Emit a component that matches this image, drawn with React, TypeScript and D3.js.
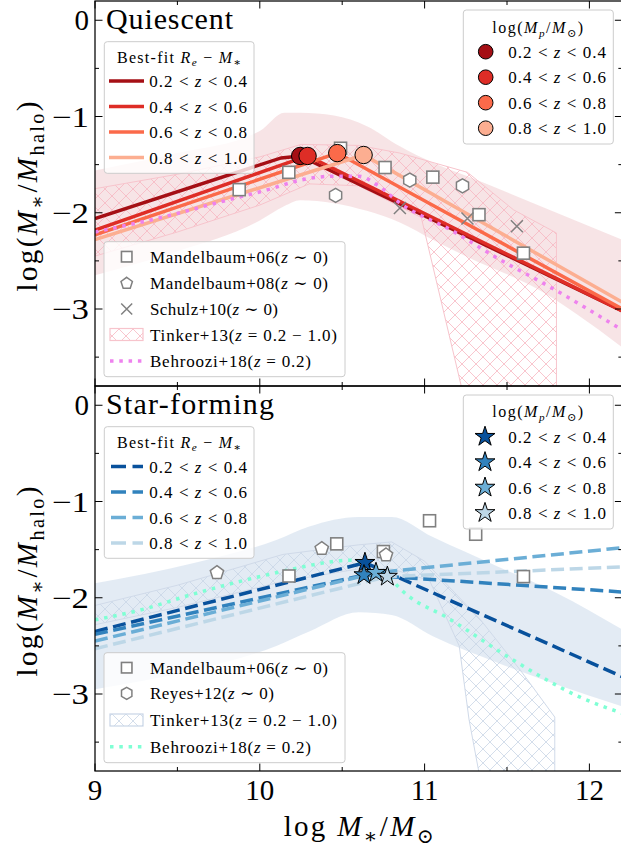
import React from "react";
import * as d3 from "d3";

// ---------- axes ----------
const X_DOMAIN: [number, number] = [9, 12.2];
const Y_DOMAIN: [number, number] = [-3.8, 0.2];
const X_MAJOR = [9, 10, 11, 12];
const X_MINOR = [9.5, 10.5, 11.5];
const Y_MAJOR = [0, -1, -2, -3];
const Y_MINOR = [-0.5, -1.5, -2.5, -3.5];
const Y_TICK_TEXT = ["0", "\u22121", "\u22122", "\u22123"];
const X_TICK_TEXT = ["9", "10", "11", "12"];

// ---------- redshift bins ----------
const Z_LO = ["0.2", "0.4", "0.6", "0.8"];
const Z_HI = ["0.4", "0.6", "0.8", "1.0"];

// ---------- quiescent: best-fit relations (knots) and pivot masses ----------
const Q_FIT_X = [
  [9.0, 10.13, 10.245, 12.2],
  [9.0, 10.29, 12.2],
  [9.0, 10.47, 12.2],
  [9.0, 10.63, 12.2],
];
const Q_FIT_Y = [
  [-2.06, -1.43, -1.41, -3.02],
  [-2.18, -1.41, -3.02],
  [-2.23, -1.38, -3.0],
  [-2.28, -1.4, -2.93],
];
const Q_PIVOT_X = [10.245, 10.29, 10.47, 10.63];
const Q_PIVOT_Y = [-1.41, -1.41, -1.38, -1.4];

// quiescent comparison data
const Q_M06_X = [9.875, 10.176, 10.49, 10.76, 11.05, 11.33, 11.6];
const Q_M06_Y = [-1.76, -1.58, -1.33, -1.53, -1.63, -2.02, -2.42];
const Q_M08_X = [10.46, 10.91, 11.23];
const Q_M08_Y = [-1.82, -1.66, -1.72];
const Q_S10_X = [10.85, 11.26, 11.56];
const Q_S10_Y = [-1.95, -2.06, -2.14];

const Q_BEH_X = [9.0, 9.4, 9.8, 10.05, 10.25, 10.45, 10.6, 10.72, 10.85, 11.16, 11.46, 11.76, 12.2];
const Q_BEH_Y = [-2.2, -2.05, -1.87, -1.76, -1.66, -1.62, -1.62, -1.72, -1.9, -2.18, -2.49, -2.77, -3.22];

const Q_BAND_X = [9.0, 9.5, 10.0, 10.15, 10.245, 10.45, 10.65, 10.85, 11.05, 11.26, 11.66, 12.2];
const Q_BAND_HI = [-1.56, -1.38, -1.15, -0.96, -0.96, -0.99, -1.1, -1.31, -1.48, -1.62, -1.9, -2.28];
const Q_BAND_LO = [-2.65, -2.4, -2.08, -1.93, -1.87, -1.9, -1.98, -2.1, -2.28, -2.46, -2.77, -3.4];

const Q_TINK_UX = [9.0, 9.5, 10.0, 10.25, 10.6, 10.85, 11.26, 11.54, 11.8];
const Q_TINK_UY = [-1.75, -1.6, -1.42, -1.29, -1.3, -1.38, -1.58, -1.97, -2.21];
const Q_TINK_LX = [9.0, 9.5, 10.0, 10.3, 10.6, 10.98, 11.25];
const Q_TINK_LY = [-2.45, -2.2, -1.92, -1.7, -1.72, -2.05, -4.0];

// ---------- star-forming: best-fit relations and pivot masses ----------
const S_FIT_X = [
  [9.0, 10.638, 12.2],
  [9.0, 10.632, 12.2],
  [9.0, 10.705, 12.2],
  [9.0, 10.774, 12.2],
];
const S_FIT_Y = [
  [-2.35, -1.636, -2.82],
  [-2.38, -1.764, -1.94],
  [-2.45, -1.74, -1.48],
  [-2.53, -1.78, -1.68],
];
const S_PIVOT_X = [10.638, 10.632, 10.705, 10.774];
const S_PIVOT_Y = [-1.636, -1.764, -1.74, -1.78];

const S_M06_X = [10.177, 10.467, 10.75, 11.03, 11.31, 11.6];
const S_M06_Y = [-1.774, -1.44, -1.52, -1.2, -1.34, -1.78];
const S_R12_X = [9.74, 10.376, 10.766];
const S_R12_Y = [-1.74, -1.49, -1.556];

const S_BEH_X = [9.0, 9.27, 9.58, 9.88, 10.18, 10.38, 10.54, 10.65, 10.75, 10.9, 11.13, 11.54, 11.94, 12.2];
const S_BEH_Y = [-2.23, -2.13, -1.97, -1.83, -1.71, -1.64, -1.61, -1.63, -1.74, -1.98, -2.2, -2.65, -3.03, -3.2];

const S_BAND_X = [9.0, 9.6, 10.1, 10.3, 10.6, 10.8, 11.05, 11.45, 11.8, 12.2];
const S_BAND_HI = [-1.85, -1.64, -1.4, -1.26, -1.16, -1.16, -1.37, -1.68, -1.95, -2.33];
const S_BAND_LO = [-2.95, -2.75, -2.5, -2.35, -2.15, -2.18, -2.4, -2.68, -2.9, -3.13];

const S_TINK_UX = [9.0, 9.5, 10.14, 10.6, 10.8, 11.0, 11.34, 11.58, 11.79];
const S_TINK_UY = [-2.08, -1.87, -1.55, -1.45, -1.42, -1.62, -2.23, -2.75, -3.24];
const S_TINK_LX = [9.0, 9.5, 10.14, 10.6, 10.8, 11.03, 11.21, 11.27, 11.35];
const S_TINK_LY = [-2.28, -2.1, -1.83, -1.7, -1.7, -1.82, -2.5, -3.27, -4.0];

// ---------- styling ----------
const REDS = ["#a50f15", "#de2d26", "#fb6a4a", "#fcae91"];
const BLUES = ["#08519c", "#3182bd", "#6baed6", "#bdd7e7"];
const GREY = "#808080";
const FONT = "'Liberation Serif', 'DejaVu Serif', serif";

const W = 621;
const H = 849;
const PLOT_L = 95;
const PLOT_R = 95 + 3.2 * 164.8;
const PANEL_H = 385;
const TOP_Q = 1;
const TOP_S = 386;

type Part = { t: string; it?: boolean; sub?: boolean };

function Tex({ parts, fs }: { parts: Part[]; fs: number }) {
  let shift = 0;
  return (
    <>
      {parts.map((p, i) => {
        const target = p.sub ? fs * 0.24 : 0;
        const dy = target - shift;
        shift = target;
        return (
          <tspan
            key={i}
            dy={dy !== 0 ? dy : undefined}
            fontStyle={p.it ? "italic" : undefined}
            fontSize={p.sub ? fs * 0.7 : undefined}
          >
            {p.t}
          </tspan>
        );
      })}
    </>
  );
}

const zParts = (i: number): Part[] => [
  { t: Z_LO[i] + " < " },
  { t: "z", it: true },
  { t: " < " + Z_HI[i] },
];

function polygonPath(n: number, r: number, rot: number) {
  const pts = d3.range(n).map((k) => {
    const a = rot + (2 * Math.PI * k) / n;
    return [r * Math.sin(a), -r * Math.cos(a)];
  });
  return "M" + pts.map((p) => p.join(",")).join("L") + "Z";
}

const hexPath = (r: number) => polygonPath(6, r, 0);
const pentPath = (r: number) => polygonPath(5, r, 0);
const starPath = (R: number) =>
  d3.symbol().type(d3.symbolStar).size((R * R) / 0.8908130915292852)()!;

function Square({ cx, cy, s }: { cx: number; cy: number; s: number }) {
  return (
    <rect x={cx - s / 2} y={cy - s / 2} width={s} height={s} fill="#fff" stroke={GREY} strokeWidth={1.6} />
  );
}
function Cross({ cx, cy, a }: { cx: number; cy: number; a: number }) {
  return (
    <path
      d={`M${cx - a},${cy - a}L${cx + a},${cy + a}M${cx - a},${cy + a}L${cx + a},${cy - a}`}
      stroke={GREY}
      strokeWidth={1.5}
      fill="none"
    />
  );
}
function Poly({ cx, cy, d }: { cx: number; cy: number; d: string }) {
  return <path transform={`translate(${cx},${cy})`} d={d} fill="#fff" stroke={GREY} strokeWidth={1.5} />;
}

function Frame({ x, y, top, xLabels }: { x: d3.ScaleLinear<number, number>; y: d3.ScaleLinear<number, number>; top: number; xLabels: boolean }) {
  const bottom = top + PANEL_H;
  const maj = 7.5;
  const min = 4;
  return (
    <g stroke="#000" strokeWidth={1}>
      {X_MAJOR.map((v) => (
        <g key={"xm" + v}>
          <line x1={x(v)} x2={x(v)} y1={bottom} y2={bottom - maj} />
          <line x1={x(v)} x2={x(v)} y1={top} y2={top + maj} />
        </g>
      ))}
      {X_MINOR.map((v) => (
        <g key={"xn" + v}>
          <line x1={x(v)} x2={x(v)} y1={bottom} y2={bottom - min} />
          <line x1={x(v)} x2={x(v)} y1={top} y2={top + min} />
        </g>
      ))}
      {Y_MAJOR.map((v) => (
        <g key={"ym" + v}>
          <line x1={PLOT_L} x2={PLOT_L + maj} y1={y(v)} y2={y(v)} />
          <line x1={PLOT_R} x2={PLOT_R - maj} y1={y(v)} y2={y(v)} />
        </g>
      ))}
      {Y_MINOR.map((v) => (
        <g key={"yn" + v}>
          <line x1={PLOT_L} x2={PLOT_L + min} y1={y(v)} y2={y(v)} />
          <line x1={PLOT_R} x2={PLOT_R - min} y1={y(v)} y2={y(v)} />
        </g>
      ))}
      <rect x={PLOT_L} y={top} width={PLOT_R - PLOT_L} height={PANEL_H} fill="none" strokeWidth={1.25} />
      <g stroke="none" fill="#000" fontFamily={FONT} fontSize={29}>
        {Y_MAJOR.map((v, i) => (
          <text
            key={"yl" + v}
            x={89}
            y={y(v) + 10}
            textAnchor="end"
            textLength={v === 0 ? undefined : 37}
            lengthAdjust="spacingAndGlyphs"
          >
            {Y_TICK_TEXT[i]}
          </text>
        ))}
        {xLabels &&
          X_MAJOR.map((v, i) => (
            <text key={"xl" + v} x={x(v)} y={800} textAnchor="middle">
              {X_TICK_TEXT[i]}
            </text>
          ))}
      </g>
    </g>
  );
}

function LegendBox({ x, y, w, h }: { x: number; y: number; w: number; h: number }) {
  return <rect x={x} y={y} width={w} height={h} rx={3} fill="#fff" fillOpacity={0.8} stroke="#cccccc" strokeWidth={1} />;
}

export default function App() {
  const x = d3.scaleLinear().domain(X_DOMAIN).range([PLOT_L, PLOT_R]);
  const yQ = d3.scaleLinear().domain(Y_DOMAIN).range([TOP_Q + PANEL_H, TOP_Q]);
  const yS = d3.scaleLinear().domain(Y_DOMAIN).range([TOP_S + PANEL_H, TOP_S]);

  const linePath = (xs: number[], ys: number[], y: d3.ScaleLinear<number, number>, curve = d3.curveLinear) =>
    d3
      .line<number>()
      .x((i) => x(xs[i]))
      .y((i) => y(ys[i]))
      .curve(curve)(d3.range(xs.length))!;

  const bandPath = (xs: number[], lo: number[], hi: number[], y: d3.ScaleLinear<number, number>) =>
    d3
      .area<number>()
      .x((i) => x(xs[i]))
      .y0((i) => y(lo[i]))
      .y1((i) => y(hi[i]))
      .curve(d3.curveMonotoneX)(d3.range(xs.length))!;

  const tinkerPath = (ux: number[], uy: number[], lx: number[], ly: number[], y: d3.ScaleLinear<number, number>) => {
    const pts: [number, number][] = [];
    ux.forEach((v, i) => pts.push([x(v), y(uy[i])]));
    pts.push([x(ux[ux.length - 1]), y(-4.5)]);
    for (let i = lx.length - 1; i >= 0; i--) pts.push([x(lx[i]), y(ly[i])]);
    return d3.line()(pts)! + "Z";
  };

  const fs = 17;
  const legendText = { fontFamily: FONT, fontSize: fs, fill: "#000", style: { whiteSpace: "pre" as const } };

  const mStar: Part[] = [{ t: "M", it: true }, { t: "\u2217", sub: true }];
  const yLabel: Part[] = [{ t: "log(" }, ...mStar, { t: "/" }, { t: "M", it: true }, { t: "halo", sub: true }, { t: ")" }];
  const xLabel: Part[] = [{ t: "log " }, ...mStar, { t: "/" }, { t: "M", it: true }, { t: "\u2299", sub: true }];
  const fitTitle: Part[] = [{ t: "Best-fit " }, { t: "R", it: true }, { t: "e", it: true, sub: true }, { t: " \u2212 " }, ...mStar];
  const pivTitle: Part[] = [{ t: "log(" }, { t: "M", it: true }, { t: "p", it: true, sub: true }, { t: "/" }, { t: "M", it: true }, { t: "\u2299", sub: true }, { t: ")" }];
  const ref = (name: string, rest: string): Part[] => [{ t: name + "(" }, { t: "z", it: true }, { t: rest }];

  const DOT = "3.5 5.8";
  const DASH = "13 5.6";

  return (
    <svg width={W} height={H} style={{ position: "absolute", left: 0, top: 0, background: "#fff" }}>
      <defs>
        <clipPath id="clipQ">
          <rect x={PLOT_L} y={TOP_Q} width={PLOT_R - PLOT_L} height={PANEL_H} />
        </clipPath>
        <clipPath id="clipS">
          <rect x={PLOT_L} y={TOP_S} width={PLOT_R - PLOT_L} height={PANEL_H} />
        </clipPath>
        <pattern id="hatchQ" patternUnits="userSpaceOnUse" width={14} height={14}>
          <path d="M-1,-1L15,15M15,-1L-1,15" stroke="#f7b8c2" strokeWidth={0.8} />
        </pattern>
        <pattern id="hatchS" patternUnits="userSpaceOnUse" width={14} height={14}>
          <path d="M-1,-1L15,15M15,-1L-1,15" stroke="#c9d5e6" strokeWidth={0.8} />
        </pattern>
      </defs>
      <rect x={0} y={0} width={W} height={H} fill="#fff" />

      {/* ===== Quiescent panel ===== */}
      <g clipPath="url(#clipQ)">
        <path d={bandPath(Q_BAND_X, Q_BAND_LO, Q_BAND_HI, yQ)} fill="rgb(244,219,221)" fillOpacity={0.75} />
        <path d={tinkerPath(Q_TINK_UX, Q_TINK_UY, Q_TINK_LX, Q_TINK_LY, yQ)} fill="url(#hatchQ)" stroke="#f7c4cc" strokeWidth={1} />
        {Q_FIT_X.map((xs, i) => (
          <path key={"qf" + i} d={linePath(xs, Q_FIT_Y[i], yQ)} fill="none" stroke={REDS[i]} strokeWidth={3.5} />
        ))}
        <path d={linePath(Q_BEH_X, Q_BEH_Y, yQ, d3.curveMonotoneX)} fill="none" stroke="violet" strokeWidth={3.5} strokeDasharray={DOT} />
        {Q_M06_X.map((v, i) => (
          <Square key={"qs" + i} cx={x(v)} cy={yQ(Q_M06_Y[i])} s={12} />
        ))}
        {Q_M08_X.map((v, i) => (
          <Poly key={"qh" + i} cx={x(v)} cy={yQ(Q_M08_Y[i])} d={hexPath(7)} />
        ))}
        {Q_S10_X.map((v, i) => (
          <Cross key={"qx" + i} cx={x(v)} cy={yQ(Q_S10_Y[i])} a={6} />
        ))}
        {Q_PIVOT_X.map((v, i) => (
          <circle key={"qp" + i} cx={x(v)} cy={yQ(Q_PIVOT_Y[i])} r={8.7} fill={REDS[i]} stroke="#000" strokeWidth={1} />
        ))}
      </g>
      <Frame x={x} y={yQ} top={TOP_Q} xLabels={false} />
      <text x={106} y={28.5} fontFamily={FONT} fontSize={30} textLength={127}>
        Quiescent
      </text>

      {/* legend: best-fit (quiescent) */}
      <LegendBox x={104.3} y={41.7} w={149.7} h={131.6} />
      <text x={179} y={62.5} textAnchor="middle" {...legendText} fontSize={16} textLength={124}>
        <Tex parts={fitTitle} fs={16} />
      </text>
      {REDS.map((c, i) => {
        const yy = 81 + i * 25.5;
        return (
          <g key={"ql" + i}>
            <line x1={109} x2={144} y1={yy} y2={yy} stroke={c} strokeWidth={3.5} />
            <text x={149.3} y={yy + 6} {...legendText} textLength={97.7}>
              <Tex parts={zParts(i)} fs={fs} />
            </text>
          </g>
        );
      })}

      {/* legend: pivot masses (quiescent) */}
      <LegendBox x={463.3} y={10} w={150} h={134} />
      <text x={537.7} y={33} textAnchor="middle" {...legendText} fontSize={16} textLength={91}>
        <Tex parts={pivTitle} fs={16} />
      </text>
      {REDS.map((c, i) => {
        const yy = 51.7 + i * 25.5;
        return (
          <g key={"qpl" + i}>
            <circle cx={485.7} cy={yy} r={7.3} fill={c} stroke="#000" strokeWidth={1} />
            <text x={508.3} y={yy + 6} {...legendText} textLength={97.7}>
              <Tex parts={zParts(i)} fs={fs} />
            </text>
          </g>
        );
      })}

      {/* legend: literature (quiescent) */}
      <LegendBox x={104} y={241.7} w={241} h={135} />
      <Square cx={126.7} cy={256.7} s={10.5} />
      <text x={150} y={262.7} {...legendText} textLength={178}>
        <Tex parts={ref("Mandelbaum+06", " \u223c 0)")} fs={fs} />
      </text>
      <Poly cx={126.7} cy={283.3} d={pentPath(6)} />
      <text x={150} y={289.3} {...legendText} textLength={178}>
        <Tex parts={ref("Mandelbaum+08", " \u223c 0)")} fs={fs} />
      </text>
      <Cross cx={126.7} cy={309} a={5.5} />
      <text x={150} y={315} {...legendText} textLength={128}>
        <Tex parts={ref("Schulz+10", " \u223c 0)")} fs={fs} />
      </text>
      <rect x={110} y={328.5} width={33} height={12} fill="url(#hatchQ)" stroke="#f7c4cc" strokeWidth={1.2} />
      <text x={150} y={341} {...legendText} textLength={187}>
        <Tex parts={ref("Tinker+13", " = 0.2 \u2212 1.0)")} fs={fs} />
      </text>
      <line x1={110} x2={143} y1={361} y2={361} stroke="violet" strokeWidth={3.5} strokeDasharray={DOT} />
      <text x={150} y={367} {...legendText} textLength={161}>
        <Tex parts={ref("Behroozi+18", " = 0.2)")} fs={fs} />
      </text>

      {/* ===== Star-forming panel ===== */}
      <g clipPath="url(#clipS)">
        <path d={bandPath(S_BAND_X, S_BAND_LO, S_BAND_HI, yS)} fill="rgb(222,231,242)" fillOpacity={0.85} />
        <path d={tinkerPath(S_TINK_UX, S_TINK_UY, S_TINK_LX, S_TINK_LY, yS)} fill="url(#hatchS)" stroke="#d0dae9" strokeWidth={1} />
        <path d={linePath(S_BEH_X, S_BEH_Y, yS, d3.curveMonotoneX)} fill="none" stroke="aquamarine" strokeWidth={3.5} strokeDasharray={DOT} />
        {S_FIT_X.map((xs, i) => (
          <path key={"sf" + i} d={linePath(xs, S_FIT_Y[i], yS)} fill="none" stroke={BLUES[i]} strokeWidth={3.5} strokeDasharray={DASH} />
        ))}
        {S_M06_X.map((v, i) => (
          <Square key={"ss" + i} cx={x(v)} cy={yS(S_M06_Y[i])} s={12} />
        ))}
        {S_R12_X.map((v, i) => (
          <Poly key={"sp" + i} cx={x(v)} cy={yS(S_R12_Y[i])} d={pentPath(7)} />
        ))}
        {S_PIVOT_X.map((v, i) => (
          <path key={"sst" + i} transform={`translate(${x(v)},${yS(S_PIVOT_Y[i])})`} d={starPath(10.5)} fill={BLUES[i]} stroke="#000" strokeWidth={1} />
        ))}
      </g>
      <Frame x={x} y={yS} top={TOP_S} xLabels={true} />
      <text x={106} y={413.5} fontFamily={FONT} fontSize={30} textLength={168}>
        Star-forming
      </text>

      {/* legend: best-fit (star-forming) */}
      <LegendBox x={104.3} y={426.7} w={149.7} h={131.6} />
      <text x={179} y={447.5} textAnchor="middle" {...legendText} fontSize={16} textLength={124}>
        <Tex parts={fitTitle} fs={16} />
      </text>
      {BLUES.map((c, i) => {
        const yy = 466.5 + i * 25.5;
        return (
          <g key={"sl" + i}>
            <line x1={111} x2={143} y1={yy} y2={yy} stroke={c} strokeWidth={3.5} strokeDasharray="15 6.5" />
            <text x={149.3} y={yy + 6} {...legendText} textLength={97.7}>
              <Tex parts={zParts(i)} fs={fs} />
            </text>
          </g>
        );
      })}

      {/* legend: pivot masses (star-forming) */}
      <LegendBox x={463.3} y={395} w={150} h={134} />
      <text x={537.7} y={417} textAnchor="middle" {...legendText} fontSize={16} textLength={91}>
        <Tex parts={pivTitle} fs={16} />
      </text>
      {BLUES.map((c, i) => {
        const yy = 436.7 + i * 25.4;
        return (
          <g key={"spl" + i}>
            <path transform={`translate(485,${yy})`} d={starPath(10.5)} fill={c} stroke="#000" strokeWidth={1} />
            <text x={508.3} y={yy + 6} {...legendText} textLength={97.7}>
              <Tex parts={zParts(i)} fs={fs} />
            </text>
          </g>
        );
      })}

      {/* legend: literature (star-forming) */}
      <LegendBox x={104} y={652.7} w={241} h={110} />
      <Square cx={126.7} cy={667.7} s={10.5} />
      <text x={150} y={673.7} {...legendText} textLength={178}>
        <Tex parts={ref("Mandelbaum+06", " \u223c 0)")} fs={fs} />
      </text>
      <Poly cx={126.7} cy={693.3} d={hexPath(6)} />
      <text x={150} y={699.3} {...legendText} textLength={124}>
        <Tex parts={ref("Reyes+12", " \u223c 0)")} fs={fs} />
      </text>
      <rect x={110} y={714} width={33} height={12} fill="url(#hatchS)" stroke="#c9d5e6" strokeWidth={1.2} />
      <text x={150} y={726} {...legendText} textLength={187}>
        <Tex parts={ref("Tinker+13", " = 0.2 \u2212 1.0)")} fs={fs} />
      </text>
      <line x1={110} x2={143} y1={746.7} y2={746.7} stroke="aquamarine" strokeWidth={3.5} strokeDasharray={DOT} />
      <text x={150} y={752.7} {...legendText} textLength={161}>
        <Tex parts={ref("Behroozi+18", " = 0.2)")} fs={fs} />
      </text>

      {/* axis labels */}
      <g fontFamily={FONT} fontSize={29} fill="#000" style={{ whiteSpace: "pre" }}>
        <text transform={`translate(37,${TOP_Q + PANEL_H / 2 + 3}) rotate(-90)`} textAnchor="middle" textLength={190}>
          <Tex parts={yLabel} fs={29} />
        </text>
        <text transform={`translate(37,${TOP_S + PANEL_H / 2 + 3}) rotate(-90)`} textAnchor="middle" textLength={190}>
          <Tex parts={yLabel} fs={29} />
        </text>
        <text x={(PLOT_L + PLOT_R) / 2} y={836} textAnchor="middle" textLength={150}>
          <Tex parts={xLabel} fs={29} />
        </text>
      </g>
    </svg>
  );
}
